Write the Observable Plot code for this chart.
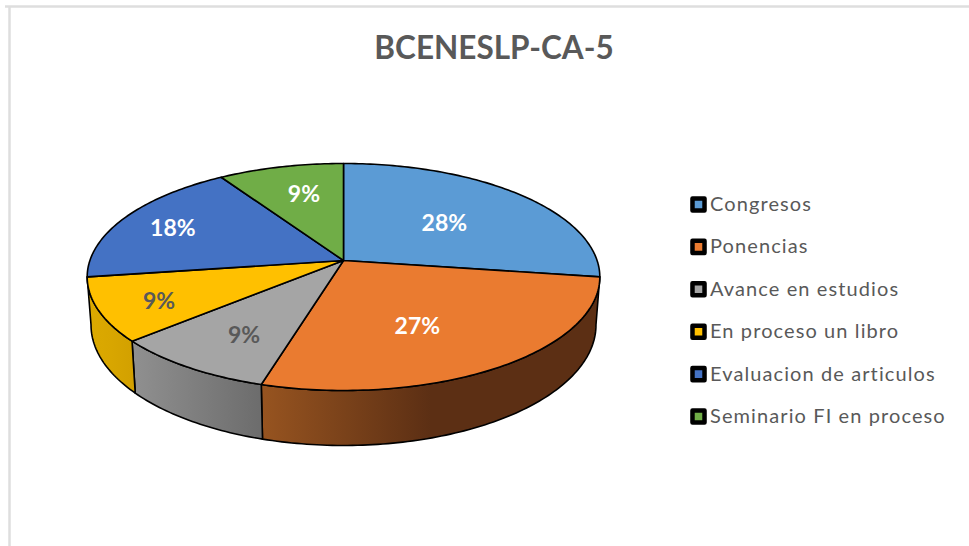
<!DOCTYPE html>
<html>
<head>
<meta charset="utf-8">
<script src="https://cdn.jsdelivr.net/npm/d3@7"></script>
<script src="https://cdn.jsdelivr.net/npm/@observablehq/plot@0.6"></script>
<style>
html,body{margin:0;padding:0;background:#fff;overflow:hidden}
svg{display:block}
.legend-label text{letter-spacing:1.1px}
</style>
</head>
<body>
<div id="chart"></div>
<script>
const title = "BCENESLP-CA-5";
const categories = ["Congresos","Ponencias","Avance en estudios","En proceso un libro","Evaluacion de articulos","Seminario FI en proceso"];
const values = [27.3,27.2,9.1,9.1,18.2,9.1];
const percentLabels = ["28%","27%","9%","9%","18%","9%"];
const colors = ["#5b9bd5","#ea7b30","#a5a5a5","#ffc000","#4472c4","#70ad47"];
const labelColors = ["#ffffff","#ffffff","#595959","#595959","#ffffff","#ffffff"];
const wallStops = [null,["#975420","#5c2f14","#5c2f14"],["#909090","#7e7e7e","#6c6c6c"],["#dcaa00","#d8a600","#d2a000"],null,null];

// Layout of the tilted pie (pixels on the chart's identity scales)
const cx = 343, cy = 260, rx = 253.6, ry = 111.1, persp = 0.1453, depth = 47, baseScale = 0.985;
const labelRadius = 0.6;
const labelNudge = [[-8,4],[-15,5.5],[-11,15],[-41,12],[-37,-5],[0,-7]];
const legendX = 698, legendTextX = 709.5, legendTop = 204, legendStep = 42.4;

const rad = d => d * Math.PI / 180;
const project = (deg, r = 1) => {
  const s = Math.sin(rad(deg)), c = Math.cos(rad(deg)), w = 1 + persp * r * c;
  return {x: cx + rx * s * r / w, y: cy - ry * c * r / w, w};
};
const projectBase = deg => {
  const p = project(deg);
  return {x: cx + (p.x - cx) * baseScale, y: p.y + depth / p.w};
};
const total = d3.sum(values);
const cum = d3.cumsum(values);
const slices = values.map((v, i) => ({
  i,
  start: (i ? cum[i - 1] : 0) / total * 360,
  end: cum[i] / total * 360
}));
const arc = (a, b, f) => {
  const n = Math.max(2, Math.ceil((b - a) / 1));
  return d3.range(n + 1).map(j => f(a + (b - a) * j / n));
};
const facePts = s => {
  const o = project(0, 0);
  return [o, ...arc(s.start, s.end, d => project(d)), o];
};
const tangentR = Math.acos(-persp) * 180 / Math.PI, tangentL = 360 - tangentR;
const wallPts = s => {
  const a = Math.max(s.start, tangentR), b = Math.min(s.end, tangentL);
  if (b <= a) return null;
  const top = arc(a, b, d => project(d)), base = arc(a, b, projectBase).reverse();
  return [...top, ...base, top[0]];
};
const defs = () => {
  const d = d3.create("svg:defs");
  wallStops.forEach((st, i) => {
    if (!st) return;
    const g = d.append("linearGradient").attr("id", "wall" + i);
    st.forEach((c, j) => g.append("stop").attr("offset", j / (st.length - 1)).attr("stop-color", c));
  });
  return d.node();
};
const lineStyle = {x: "x", y: "y", stroke: "#000", strokeWidth: 1.6, strokeLinejoin: "round", curve: "linear"};
const labelPos = slices.map(s => {
  const p = project((s.start + s.end) / 2, labelRadius);
  return {x: p.x + labelNudge[s.i][0], y: p.y + labelNudge[s.i][1], t: percentLabels[s.i], c: labelColors[s.i]};
});
const legend = categories.map((name, i) => ({name, c: colors[i], y: legendTop + i * legendStep}));

const chart = Plot.plot({
  width: 969, height: 546, margin: 0,
  x: {domain: [0, 969], range: [0, 969], axis: null},
  y: {domain: [0, 546], range: [0, 546], axis: null},
  style: {background: "#fff"},
  marks: [
    defs,
    Plot.ruleY([6], {x1: 5, x2: 969, stroke: "#dedede", strokeWidth: 2.5}),
    Plot.ruleX([9], {y1: 6, y2: 546, stroke: "#dedede", strokeWidth: 2.5}),
    Plot.text([title], {x: () => 493.5, y: () => 48, text: d => d, fontFamily: "Lato", fontWeight: 700, fontSize: 31.5, fill: "#595959", lineAnchor: "middle"}),
    ...slices.filter(s => wallStops[s.i] && wallPts(s)).map(s =>
      Plot.line(wallPts(s), {...lineStyle, fill: `url(#wall${s.i})`})),
    ...slices.map(s => Plot.line(facePts(s), {...lineStyle, fill: colors[s.i]})),
    Plot.text(labelPos, {x: "x", y: "y", text: "t", fill: "c", fontFamily: "Lato", fontWeight: 700, fontSize: 23, lineAnchor: "middle"}),
    Plot.dot(legend, {x: () => legendX, y: "y", symbol: "square", r: 6.8, fill: "c", stroke: "#000", strokeWidth: 4.5, strokeLinejoin: "round"}),
    Plot.text(legend, {x: () => legendTextX, y: "y", text: "name", textAnchor: "start", fill: "#595959", fontFamily: "Lato", fontSize: 20, lineAnchor: "middle", className: "legend-label"})
  ]
});
document.getElementById("chart").append(chart);
</script>
</body>
</html>
